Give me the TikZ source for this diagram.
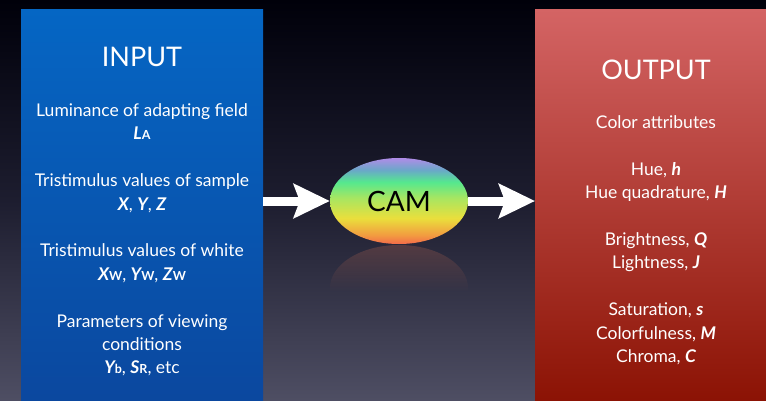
\documentclass[tikz,border=0pt]{standalone}
\usepackage{fontspec}
\setmainfont{Lato}
\usepackage{xcolor}
\usetikzlibrary{arrows.meta,shapes.geometric,fadings}
\definecolor{bgtop}{HTML}{00000A}
\definecolor{bgmid}{HTML}{1D1D2F}
\definecolor{bgbot}{HTML}{4E4E63}
\definecolor{pblue}{HTML}{0566C4}
\definecolor{pblued}{HTML}{0B479E}
\definecolor{pred}{HTML}{D46464}
\definecolor{predd}{HTML}{8A1102}
\definecolor{prefl}{HTML}{A86050}
\definecolor{camred}{HTML}{F26A4A}
\definecolor{camorange}{HTML}{F29A40}
\definecolor{camyellow}{HTML}{EADF3C}
\definecolor{camlime}{HTML}{A6E662}
\definecolor{camgreen}{HTML}{55E88E}
\definecolor{camteal}{HTML}{6AA8C8}
\definecolor{campurple}{HTML}{B08CE8}
\pgfdeclareverticalshading{camrainbow}{100bp}{%
  color(0bp)=(camred); color(25bp)=(camred); color(30bp)=(camorange);
  color(40bp)=(camyellow); color(52bp)=(camlime); color(61bp)=(camgreen);
  color(68bp)=(camteal); color(75bp)=(campurple); color(100bp)=(campurple)}
\newcommand\var[1]{{\bfseries\itshape #1}}
\newcommand\lo[1]{{\bfseries\fontsize{12.5}{12.5}\selectfont #1}}
\tikzset{
  % Tall shaded panel, top colour to bottom colour.
  panel/.style 2 args = {rectangle, anchor=north west, inner sep=0pt,
                         top color=#1, bottom color=#2, minimum height=400pt},
  title/.style = {text=white, font=\fontsize{27}{30}\selectfont, inner sep=0pt},
  body/.style  = {text=white, font=\fontsize{17.5}{23.4}\selectfont, align=center,
                  anchor=north, inner sep=0pt},
  flow/.style  = {-{Stealth[length=36pt,width=34pt,inset=6pt]}, line width=9pt, white},
}
\begin{document}
\begin{tikzpicture}[x=1pt,y=-1pt]
\useasboundingbox (0,0) rectangle (766,400);
\clip (0,0) rectangle (766,400);
\shade[top color=bgtop, bottom color=bgbot, middle color=bgmid] (0,0) rectangle (766,400);
% panels
\node[panel={pblue}{pblued}, minimum width=242pt] (inbox) at (21,9) {};
\node[panel={pred}{predd}, minimum width=240pt] (outbox) at (535,9) {};
\node[title] (intitle) at (142,57) {INPUT};
\node[title] (outtitle) at (656,70) {OUTPUT};
\node[body] (inlist) at (142,103.5) {Luminance of adapting field\\ \var{L}\lo{A}\\[23.4pt]
  Tristimulus values of sample\\ \var{X}, \var{Y}, \var{Z}\\[23.4pt]
  Tristimulus values of white\\ \var{X}\lo{W}, \var{Y}\lo{W}, \var{Z}\lo{W}\\[23.4pt]
  Parameters of viewing\\ conditions\\ \var{Y}\lo{b}, \var{S}\lo{R}, etc};
\node[body] (outlist) at (656,115.5) {Color attributes\\[23.4pt]
  Hue, \var{h}\\ Hue quadrature, \var{H}\\[23.4pt]
  Brightness, \var{Q}\\ Lightness, \var{J}\\[23.4pt]
  Saturation, \var{s}\\ Colorfulness, \var{M}\\ Chroma, \var{C}};
% reflection under the model
\begin{scope}
  \clip (399,288) ellipse [x radius=69, y radius=43];
  \fill[prefl, opacity=.35, path fading=south] (330,244) rectangle (468,292);
\end{scope}
\node[ellipse, shading=camrainbow, minimum width=138pt, minimum height=86pt, inner sep=0pt,
      font=\fontsize{28}{30}\selectfont] (cam) at (399,201) {CAM};
\draw[flow] (inbox.east |- cam.west) -- (cam.west);
\draw[flow] (cam.east) -- (outbox.west |- cam.east);
\end{tikzpicture}
\end{document}
